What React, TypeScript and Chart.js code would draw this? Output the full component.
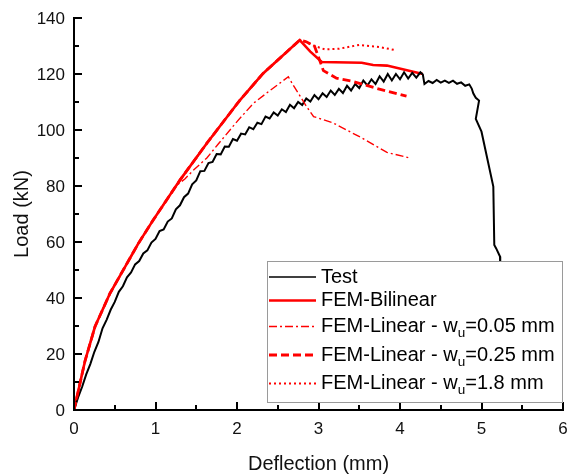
import React, { useEffect, useRef } from "react";
import { Chart, registerables } from "chart.js";

Chart.register(...registerables);

// ---------- data ----------
const testDeflection = [
  0, 0.05, 0.1, 0.15, 0.2, 0.25, 0.3, 0.35, 0.4, 0.45, 0.5, 0.55, 0.6, 0.65, 0.7, 0.75, 0.8, 0.85, 0.9, 0.95,
  1.0, 1.05, 1.1, 1.15, 1.2, 1.25, 1.3, 1.35, 1.4, 1.45, 1.5, 1.55, 1.6, 1.65, 1.7, 1.75, 1.8, 1.85, 1.9, 1.95,
  2.0, 2.05, 2.1, 2.15, 2.2, 2.25, 2.3, 2.35, 2.4, 2.45, 2.5, 2.55, 2.6, 2.65, 2.7, 2.75, 2.8, 2.85, 2.9, 2.95,
  3.0, 3.05, 3.1, 3.15, 3.2, 3.25, 3.3, 3.35, 3.4, 3.45, 3.5, 3.55, 3.6, 3.65, 3.7, 3.75, 3.8, 3.85, 3.9, 3.95,
  4.0, 4.05, 4.1, 4.15, 4.2, 4.25, 4.28, 4.3, 4.35, 4.4, 4.45, 4.5, 4.55, 4.6, 4.65, 4.7, 4.75, 4.8, 4.85, 4.88,
  4.9, 4.93, 4.97, 4.93, 5.0, 5.145, 5.157, 5.18, 5.227, 5.23, 5.24,
];
const testLoad = [
  0, 4.5, 8.3, 12.7, 16.4, 20.8, 24.3, 29.2, 32.2, 35.8, 38.6, 42.2, 44.2, 47.4, 49.1, 52.0, 53.2, 55.9, 57.0, 59.8,
  61.1, 63.9, 64.5, 67.3, 68.4, 71.7, 73.1, 76.0, 77.3, 80.6, 82.0, 85.3, 85.4, 88.2, 88.6, 91.4, 91.3, 94.1, 94.0, 96.8,
  96.2, 98.7, 98.4, 101.0, 100.3, 102.6, 102.1, 104.8, 104.1, 106.3, 105.2, 107.4, 106.4, 109.0, 107.8, 110.0, 108.9, 111.3, 110.2, 112.5,
  111.0, 113.1, 111.8, 114.1, 112.5, 114.7, 113.2, 115.8, 114.1, 116.4, 115.0, 117.7, 115.9, 118.1, 116.4, 119.2, 117.3, 120.0, 117.7, 120.0,
  118.1, 120.6, 118.4, 120.4, 118.7, 120.6, 119.8, 116.4, 117.5, 116.8, 117.9, 116.9, 117.6, 116.8, 117.6, 116.5, 117.0, 115.8, 116.3, 114.8,
  113.0, 111.5, 110.5, 104.0, 99.4, 79.8, 58.9, 57.7, 54.8, 50, 44,
];

const bilinearDeflection = [0, 0.135, 0.258, 0.442, 0.79, 0.973, 1.3, 1.628, 2.037, 2.32, 2.77, 2.9, 3.04, 3.53, 3.67, 3.84, 4.28];
const bilinearLoad = [0, 17.5, 29.8, 41.7, 59.5, 67.9, 82.1, 95.2, 110.7, 120.2, 132.1, 128, 124.3, 124, 123.2, 123, 120];

const linear005Deflection = [0, 0.135, 0.258, 0.442, 0.79, 0.973, 1.25, 1.36, 1.46, 1.63, 1.77, 2.0, 2.2, 2.4, 2.63, 2.69, 2.855, 2.94, 3.18, 3.51, 3.84, 4.12];
const linear005Load = [0, 17.5, 29.8, 41.7, 59.5, 67.9, 80, 82.5, 85.5, 90, 95, 103, 109.5, 114, 119, 116, 108.3, 104.8, 102.5, 97.5, 92, 90];

const linear025Deflection = [0, 0.135, 0.258, 0.442, 0.79, 0.973, 1.3, 1.628, 2.037, 2.32, 2.77, 2.85, 2.95, 3.06, 3.22, 3.43, 3.71, 4.08];
const linear025Load = [0, 17.5, 29.8, 41.7, 59.5, 67.9, 82.1, 95.2, 110.7, 120.2, 132.1, 131.5, 130, 121.2, 118.5, 117.3, 114.9, 112.1];

const linear18Deflection = [0, 0.135, 0.258, 0.442, 0.79, 0.973, 1.3, 1.628, 2.037, 2.32, 2.77, 2.82, 2.95, 3.08, 3.25, 3.5, 3.75, 3.95];
const linear18Load = [0, 17.5, 29.8, 41.7, 59.5, 67.9, 82.1, 95.2, 110.7, 120.2, 132.1, 131.8, 130, 128.8, 129, 130.4, 129.6, 128.5];

const xTicks = [0, 1, 2, 3, 4, 5, 6];
const xMinorTicks = [0.5, 1.5, 2.5, 3.5, 4.5, 5.5];
const yTicks = [0, 20, 40, 60, 80, 100, 120, 140];
const yMinorTicks = [10, 30, 50, 70, 90, 110, 130];

const xTitle = "Deflection (mm)";
const yTitle = "Load (kN)";

type LegendItem = { pre: string; sub: string; post: string; color: string; width: number; dash: number[] };
const legendItems: LegendItem[] = [
  { pre: "Test", sub: "", post: "", color: "#000000", width: 1.6, dash: [] },
  { pre: "FEM-Bilinear", sub: "", post: "", color: "#ff0000", width: 2.6, dash: [] },
  { pre: "FEM-Linear - w", sub: "u", post: "=0.05 mm", color: "#ff0000", width: 1.4, dash: [8, 3, 2, 3] },
  { pre: "FEM-Linear - w", sub: "u", post: "=0.25 mm", color: "#ff0000", width: 2.8, dash: [8, 4] },
  { pre: "FEM-Linear - w", sub: "u", post: "=1.8 mm", color: "#ff0000", width: 2.0, dash: [2, 3] },
];

const FONT = "'Liberation Sans', Arial, Helvetica, sans-serif";

function pts(xs: number[], ys: number[]) {
  return xs.map((x, i) => ({ x, y: ys[i] }));
}

const axesPlugin = {
  id: "customAxes",
  afterDraw(chart: any) {
    const ctx = chart.ctx as CanvasRenderingContext2D;
    const xs = chart.scales.x;
    const ys = chart.scales.y;
    const area = chart.chartArea;
    ctx.save();
    ctx.strokeStyle = "#000";
    ctx.fillStyle = "#000";
    // axis lines
    ctx.lineWidth = 2;
    ctx.beginPath();
    ctx.moveTo(area.left, area.top - 1);
    ctx.lineTo(area.left, area.bottom);
    ctx.lineTo(area.right + 1, area.bottom);
    ctx.stroke();
    // ticks (inward)
    ctx.beginPath();
    xTicks.forEach((v) => {
      const p = Math.round(xs.getPixelForValue(v));
      ctx.moveTo(p, area.bottom);
      ctx.lineTo(p, area.bottom - 8);
    });
    xMinorTicks.forEach((v) => {
      const p = Math.round(xs.getPixelForValue(v));
      ctx.moveTo(p, area.bottom);
      ctx.lineTo(p, area.bottom - 5);
    });
    yTicks.forEach((v) => {
      const p = Math.round(ys.getPixelForValue(v));
      ctx.moveTo(area.left, p);
      ctx.lineTo(area.left + 8, p);
    });
    yMinorTicks.forEach((v) => {
      const p = Math.round(ys.getPixelForValue(v));
      ctx.moveTo(area.left, p);
      ctx.lineTo(area.left + 5, p);
    });
    ctx.stroke();
    // tick labels
    ctx.font = `17px ${FONT}`;
    ctx.fillStyle = "#111";
    ctx.textAlign = "center";
    ctx.textBaseline = "middle";
    xTicks.forEach((v) => {
      ctx.fillText(String(v), xs.getPixelForValue(v), area.bottom + 19);
    });
    ctx.textAlign = "right";
    yTicks.forEach((v) => {
      ctx.fillText(String(v), area.left - 9, ys.getPixelForValue(v) + 1);
    });
    // titles
    ctx.font = `20px ${FONT}`;
    ctx.textAlign = "center";
    ctx.fillText(xTitle, (area.left + area.right) / 2, area.bottom + 54);
    ctx.save();
    ctx.translate(22, (area.top + area.bottom) / 2);
    ctx.rotate(-Math.PI / 2);
    ctx.fillText(yTitle, 0, 0);
    ctx.restore();

    // legend
    const bx = 267, by = 261, bw = 295, bh = 141;
    ctx.fillStyle = "#fff";
    ctx.fillRect(bx, by, bw, bh);
    ctx.strokeStyle = "#9a9a9a";
    ctx.lineWidth = 1;
    ctx.strokeRect(bx + 0.5, by + 0.5, bw, bh);
    const rowY = [277, 300.5, 326.5, 355, 383.5];
    legendItems.forEach((it, i) => {
      const y = rowY[i];
      ctx.save();
      ctx.strokeStyle = it.color;
      ctx.lineWidth = it.width;
      ctx.setLineDash(it.dash);
      ctx.beginPath();
      ctx.moveTo(269, y);
      ctx.lineTo(316, y);
      ctx.stroke();
      ctx.restore();
      ctx.fillStyle = "#000";
      ctx.textAlign = "left";
      ctx.textBaseline = "middle";
      ctx.font = `20px ${FONT}`;
      let x = 321;
      ctx.fillText(it.pre, x, y);
      x += ctx.measureText(it.pre).width;
      if (it.sub) {
        ctx.font = `13.5px ${FONT}`;
        ctx.fillText(it.sub, x, y + 7);
        x += ctx.measureText(it.sub).width;
        ctx.font = `20px ${FONT}`;
      }
      if (it.post) ctx.fillText(it.post, x, y);
    });
    ctx.restore();
  },
};

export default function App() {
  const ref = useRef<HTMLCanvasElement | null>(null);
  useEffect(() => {
    if (!ref.current) return;
    const line = (data: any, color: string, width: number, dash: number[]) => ({
      data,
      borderColor: color,
      borderWidth: width,
      borderDash: dash,
      showLine: true,
      pointRadius: 0,
      tension: 0,
      fill: false,
    });
    const chart = new Chart(ref.current, {
      type: "scatter",
      data: {
        datasets: [
          { label: "FEM-Linear 1.8", ...line(pts(linear18Deflection, linear18Load), "#ff0000", 2.0, [2, 3]) },
          { label: "FEM-Linear 0.25", ...line(pts(linear025Deflection, linear025Load), "#ff0000", 2.8, [8, 4]) },
          { label: "FEM-Linear 0.05", ...line(pts(linear005Deflection, linear005Load), "#ff0000", 1.4, [8, 3, 2, 3]) },
          { label: "Test", ...line(pts(testDeflection, testLoad), "#000000", 2.0, []) },
          { label: "FEM-Bilinear", ...line(pts(bilinearDeflection, bilinearLoad), "#ff0000", 2.6, []) },
        ],
      },
      options: {
        animation: false,
        responsive: false,
        devicePixelRatio: 1,
        layout: { padding: { left: 74, right: 5, top: 18, bottom: 66 } },
        plugins: { legend: { display: false }, tooltip: { enabled: false } },
        scales: {
          x: { type: "linear", min: 0, max: 6, display: false },
          y: { type: "linear", min: 0, max: 140, display: false },
        },
      },
      plugins: [axesPlugin],
    } as any);
    return () => chart.destroy();
  }, []);
  return (
    <div style={{ position: "absolute", left: 0, top: 0, width: 568, height: 476, background: "#fff" }}>
      <canvas ref={ref} width={568} height={476} />
    </div>
  );
}
